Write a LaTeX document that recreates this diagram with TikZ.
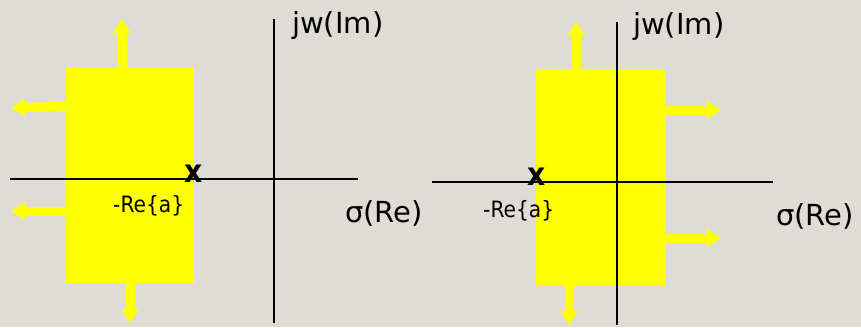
\documentclass[tikz,border=0pt]{standalone}
\usepackage{fontspec}
\setmainfont{DejaVu Sans}
\newfontfamily\condfont{DejaVu Sans Condensed}
\usetikzlibrary{arrows.meta}
\definecolor{bg}{RGB}{223,220,213}
\definecolor{yel}{RGB}{255,255,0}
\begin{document}
\begin{tikzpicture}[x=1pt,y=-1pt,
  region/.style={fill=yel,draw=none},
  growarrow/.style={draw=yel,line width=9pt,-{Triangle[width=17pt,length=14pt]}},
  axisline/.style={draw=black,line width=1.3pt},
  biglabel/.style={font=\fontsize{29}{32}\selectfont,inner sep=0pt,anchor=base west},
  smalllabel/.style={font=\condfont\fontsize{22.5}{24}\selectfont,inner sep=0pt,anchor=base west},
  polemark/.style={font=\bfseries\fontsize{32}{36}\selectfont,inner sep=0pt,anchor=base}]
\fill[bg] (0,0) rectangle (861,327);
\useasboundingbox (0,0) rectangle (861,327);
% ---------- left panel ----------
\fill[region] (66,67) rectangle (194,283);
\coordinate (L1a) at (122,67); \coordinate (L1b) at (122,19);
\coordinate (L2a) at (66,106); \coordinate (L2b) at (11,108);
\coordinate (L3a) at (66,211); \coordinate (L3b) at (11,211);
\coordinate (L4a) at (130,283); \coordinate (L4b) at (130,323);
\draw[growarrow] (L1a) -- (L1b);
\draw[growarrow] (L2a) -- (L2b);
\draw[growarrow] (L3a) -- (L3b);
\draw[growarrow] (L4a) -- (L4b);
\coordinate (LHa) at (10,179); \coordinate (LHb) at (358,179);
\coordinate (LVa) at (274,19); \coordinate (LVb) at (274,323);
\draw[axisline] (LHa) -- (LHb);
\draw[axisline] (LVa) -- (LVb);
\node[polemark] (Lpole) at (194,182) {\scalebox{0.88}[1]{x}};
\node[smalllabel] (Lre) at (113,212) {-Re\{a\}};
\node[biglabel] (Lim) at (292,33) {jw(Im)};
\node[biglabel] (Lsig) at (345,222) {σ(Re)};
% ---------- right panel ----------
\fill[region] (536,70) rectangle (665,286);
\coordinate (R1a) at (576,70); \coordinate (R1b) at (576,22);
\coordinate (R2a) at (665,110); \coordinate (R2b) at (721,110);
\coordinate (R3a) at (665,238); \coordinate (R3b) at (721,238);
\coordinate (R4a) at (569,286); \coordinate (R4b) at (569,325);
\draw[growarrow] (R1a) -- (R1b);
\draw[growarrow] (R2a) -- (R2b);
\draw[growarrow] (R3a) -- (R3b);
\draw[growarrow] (R4a) -- (R4b);
\coordinate (RHa) at (432,182); \coordinate (RHb) at (773,182);
\coordinate (RVa) at (617,22); \coordinate (RVb) at (617,325);
\draw[axisline,line width=2pt] (RHa) -- (RHb);
\draw[axisline] (RVa) -- (RVb);
\node[polemark] (Rpole) at (537,185) {\scalebox{0.88}[1]{x}};
\node[smalllabel] (Rre) at (483,217) {-Re\{a\}};
\node[biglabel] (Rim) at (633,34) {jw(Im)};
\node[biglabel] (Rsig) at (776,225) {σ(Re)};
\end{tikzpicture}
\end{document}
